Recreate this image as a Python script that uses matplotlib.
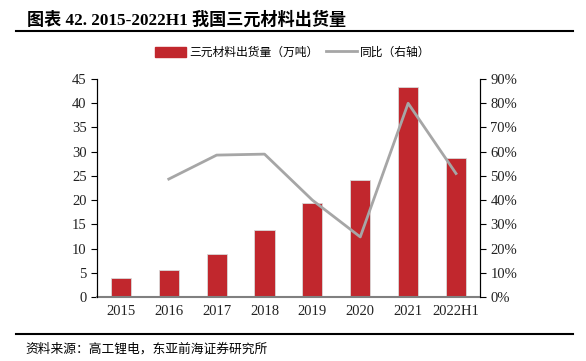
import matplotlib
matplotlib.use("Agg")
import matplotlib.pyplot as plt
from matplotlib.lines import Line2D
from matplotlib.ticker import FuncFormatter

categories = ["2015", "2016", "2017", "2018", "2019", "2020", "2021", "2022H1"]
shipments = [3.9, 5.6, 8.9, 13.8, 19.4, 24.2, 43.4, 28.7]
yoy_x = [1, 2, 3, 4, 5, 6, 7]
yoy = [48.7, 58.6, 59.0, 40.0, 24.8, 80.0, 51.0]

serif = ["Liberation Serif", "Noto Sans CJK SC"]
cjk = ["Noto Sans CJK SC", "DejaVu Sans"]
plt.rcParams['font.family'] = serif

fig = plt.figure(figsize=(5.86, 3.61), dpi=100)
ax = fig.add_axes([0.1655, 0.1773, 0.6535, 0.6037])
ax2 = ax.twinx()

bar_color = "#C1272D"
line_color = "#A6A6A6"
x = list(range(len(categories)))
ax.bar(x, shipments, width=0.42, color=bar_color, edgecolor="#D9D9D9", linewidth=0.6, zorder=2)
ax2.plot(yoy_x, yoy, color=line_color, linewidth=2, zorder=3)

ax.set_xlim(-0.5, 7.5)
ax.set_ylim(0, 45)
ax.set_yticks(range(0, 46, 5))
ax2.set_ylim(0, 90)
ax2.set_yticks(range(0, 91, 10))
ax2.yaxis.set_major_formatter(FuncFormatter(lambda v, p: f"{int(v)}%"))
ax.set_xticks(x)
ax.set_xticklabels(categories)

for a in (ax, ax2):
    a.spines['top'].set_visible(False)
    a.tick_params(axis='y', labelsize=10.5, length=4, width=0.8, direction='out', colors='black')
ax.spines['left'].set_color('black')
ax2.spines['right'].set_color('black')
ax.spines['bottom'].set_color('#808080')
ax.spines['bottom'].set_linewidth(1.5)
ax2.spines['bottom'].set_visible(False)
ax.tick_params(axis='x', length=0, labelsize=10.5, pad=6)
for t in ax.get_yticklabels() + ax2.get_yticklabels() + ax.get_xticklabels():
    t.set_color('#222222')

# Title
fig.text(0.046, 0.945, "图表 42. 2015-2022H1 我国三元材料出货量", fontsize=12.3,
         fontweight='bold', family=serif, ha='left', va='center')
fig.add_artist(Line2D([0.027, 0.978], [0.914, 0.914], color='black', linewidth=1.5))
fig.add_artist(Line2D([0.027, 0.978], [0.075, 0.075], color='black', linewidth=1.5))
fig.text(0.043, 0.032, "资料来源：高工锂电，东亚前海证券研究所", fontsize=9.2,
         family=cjk, ha='left', va='center')

# Legend
handles = [plt.Rectangle((0, 0), 1, 1, color=bar_color),
           Line2D([0], [0], color=line_color, linewidth=2)]
leg = fig.legend(handles, ["三元材料出货量（万吨）", "同比（右轴）"], loc='center',
                 bbox_to_anchor=(0.5, 0.855), ncol=2, frameon=False,
                 prop={'family': cjk, 'size': 8.5}, handlelength=2.6, handleheight=0.9,
                 columnspacing=0.6, handletextpad=0.3)

fig.savefig("out.png", dpi=100)
